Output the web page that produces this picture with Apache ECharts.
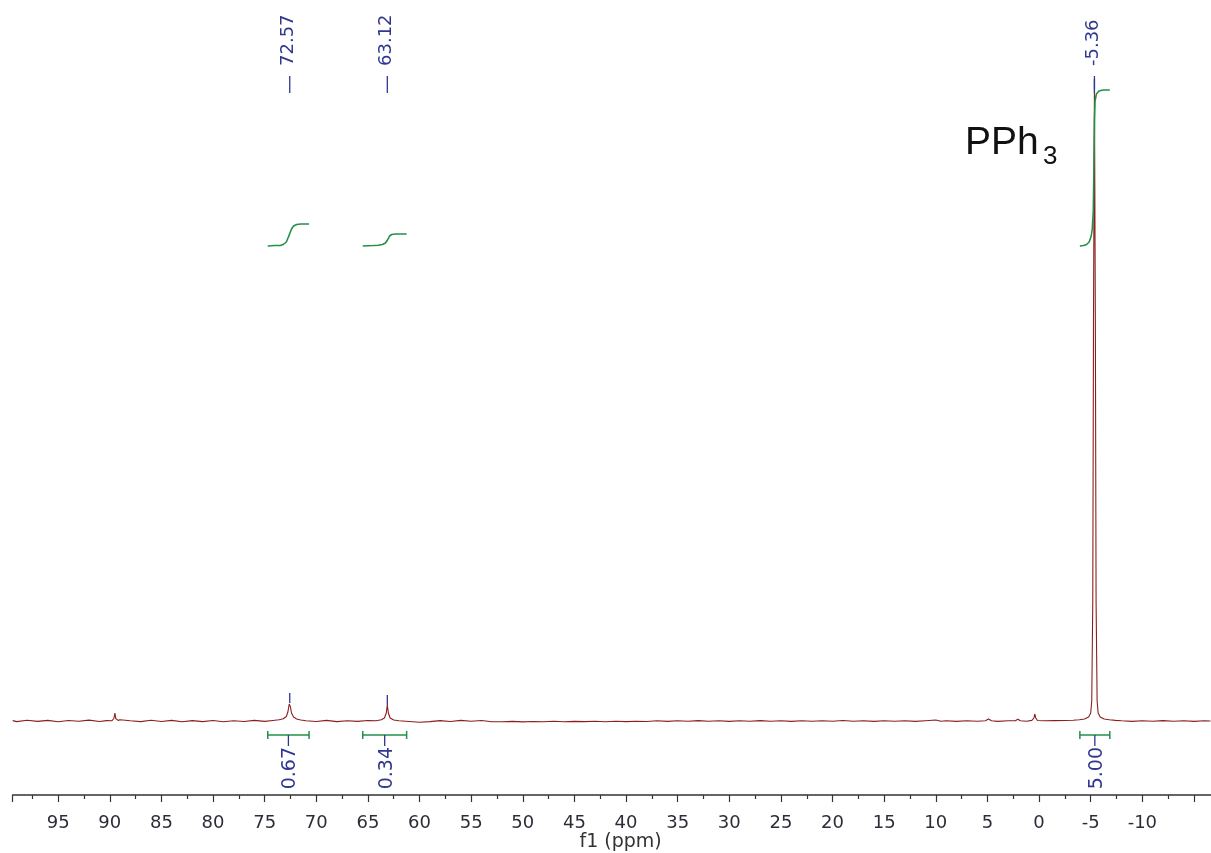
<!DOCTYPE html>
<html>
<head>
<meta charset="utf-8">
<title>31P NMR</title>
<script src="https://cdn.jsdelivr.net/npm/echarts@6/dist/echarts.min.js"></script>
<style>
html, body { margin: 0; padding: 0; background: #fff; }
#main { width: 1211px; height: 853px; }
</style>
</head>
<body>
<div id="main"></div>
<script>
// spectrum trace, [ppm, intensity]
var spectrum = [
    [99.4, 0.4], [99, -0.6], [98, 0.8], [97, -0.4], [96, 0.6], [95, -0.8], [94, 0.5], [93, -0.3],
    [92, 0.9], [91, -0.5], [90.3, 0.4], [89.8, 0.2], [89.6, 2.5], [89.5, 8], [89.42, 2.5], [89.2, 0.6],
    [89, 1.2], [88.5, 0.8], [88, 0.2], [87, -0.6], [86, 0.7], [85, -0.5], [84, 0.6], [83, -0.7],
    [82, 0.4], [81, -0.6], [80, 0.5], [79, -0.8], [78, 0.3], [77, -0.5], [76, 0.6], [75, -0.4],
    [74.2, 0.5], [73.6, 1.2], [73.2, 2.2], [72.9, 4.5], [72.75, 9], [72.62, 17], [72.57, 18], [72.5, 14],
    [72.4, 8], [72.2, 4], [71.9, 2], [71.5, 1], [71, 0.2], [70, -0.5], [69, 0.6], [68, -0.6],
    [67, 0.3], [66, -0.4], [65, 0.5], [64.2, 0.3], [63.7, 1.2], [63.4, 3], [63.22, 8], [63.12, 16],
    [63.02, 8], [62.85, 3], [62.5, 1], [62, 0.2], [61, -0.5], [60, -1.2], [59, -0.6], [58, 0.4],
    [57, -0.5], [56, 0.6], [55, -0.3], [54, 0.5], [53, -0.7], [52, -0.8], [51, -0.4], [50, -0.9],
    [49, -0.5], [48, -0.8], [47, -0.3], [46, -0.7], [45, -0.4], [44, -0.6], [43, -0.2], [42, -0.7],
    [41, -0.3], [40, -0.6], [39, -0.2], [38, -0.5], [37, 0.2], [36, -0.4], [35, 0.3], [34, -0.3],
    [33, 0.4], [32, -0.2], [31, 0.3], [30, -0.4], [29, 0.2], [28, -0.3], [27, 0.4], [26, -0.2],
    [25, 0.3], [24, -0.4], [23, 0.2], [22, -0.3], [21, 0.3], [20, -0.2], [19, 0.5], [18, -0.3],
    [17, 0.3], [16, -0.4], [15, 0.2], [14, -0.3], [13, 0.2], [12, -0.4], [11, 0.3], [10, 1],
    [9.5, -0.2], [9, 0.3], [8, -0.4], [7, 0.2], [6, -0.3], [5.2, 0.2], [4.9, 2], [4.6, 0.3],
    [4, -0.4], [3, 0.2], [2.3, 0.3], [2.06, 1.8], [1.8, 0.2], [1.2, -0.3], [0.7, 0.6], [0.5, 3],
    [0.42, 7], [0.32, 3], [0.15, 0.5], [-0.5, 0.3], [-1.5, 0.4], [-2.5, 0.5], [-3.3, 0.7], [-3.9, 1.2],
    [-4.4, 2], [-4.8, 4], [-5.0, 8], [-5.1, 20], [-5.2, 120], [-5.27, 400], [-5.36, 632], [-5.45, 400],
    [-5.52, 120], [-5.62, 20], [-5.72, 8], [-5.92, 4], [-6.3, 2], [-6.8, 1.2], [-7.4, 0.6], [-8, 0.2],
    [-9, -0.4], [-10, 0.3], [-11, -0.3], [-12, 0.4], [-13, -0.3], [-14, 0.3], [-15, -0.4], [-16, 0.3],
    [-16.6, 0]
];

// picked peaks
var peakShifts = [72.57, 63.12, -5.36];
var peakHeights = [18, 16, 632];

// integrals
var integralFrom = [74.7, 65.5, -3.95];
var integralTo = [70.7, 61.25, -6.85];
var integralValues = ['0.67', '0.34', '5.00'];
var integralCurveA = [
    [74.7, 475], [74, 475.5], [73.5, 475.5], [73.2, 476.5], [72.9, 479], [72.7, 484],
    [72.55, 488], [72.4, 492], [72.2, 495], [71.9, 496.5], [71.5, 497], [70.7, 497]
];
var integralCurveB = [
    [65.5, 475], [64.5, 475.5], [64, 475.8], [63.6, 476.5], [63.3, 478], [63.1, 481],
    [62.9, 485], [62.7, 486.5], [62.3, 487], [61.25, 487]
];
var integralCurveC = [
    [-3.95, 475], [-4.3, 475.5], [-4.6, 476.5], [-4.85, 479], [-5.05, 485], [-5.15, 492],
    [-5.25, 510], [-5.32, 560], [-5.36, 600], [-5.42, 620], [-5.55, 627], [-5.8, 630],
    [-6.2, 631], [-6.85, 631]
];

var tickLabels = [95, 90, 85, 80, 75, 70, 65, 60, 55, 50, 45, 40, 35, 30, 25, 20, 15, 10, 5, 0, -5, -10];

var RED = '#8b1e1e';
var GREEN = '#23904a';
var NAVY = '#30378f';
var FONT = '"DejaVu Sans", Verdana, sans-serif';
var SANS = '"Liberation Sans", Arial, sans-serif';

var myChart = echarts.init(document.getElementById('main'));

// peak labels on top, rotated
function renderPeakLabel(params, api) {
    var ppm = api.value(0);
    var top = api.coord([ppm, api.value(1)]);
    var x = top[0];
    var y0 = params.coordSys.y;
    return {
        type: 'group',
        children: [
            {
                type: 'text', x: x - 1, y: y0 + 66, rotation: Math.PI / 2,
                style: { text: ppm.toFixed(2), fill: NAVY, fontSize: 18, fontFamily: FONT, align: 'left', verticalAlign: 'middle' }
            },
            { type: 'line', shape: { x1: x, y1: y0 + 76, x2: x, y2: y0 + 93 }, style: { stroke: NAVY, lineWidth: 1.3 } },
            { type: 'line', shape: { x1: x, y1: top[1] - 10, x2: x, y2: top[1] }, style: { stroke: NAVY, lineWidth: 1.3 } }
        ]
    };
}

// integral brackets under the baseline
function renderIntegral(params, api) {
    var a = api.coord([api.value(0), -14]);
    var b = api.coord([api.value(1), -14]);
    var y = a[1];
    var mid = (a[0] + b[0]) / 2;
    return {
        type: 'group',
        children: [
            { type: 'line', shape: { x1: a[0], y1: y, x2: b[0], y2: y }, style: { stroke: GREEN, lineWidth: 1.5 } },
            { type: 'line', shape: { x1: a[0], y1: y - 4, x2: a[0], y2: y + 4 }, style: { stroke: GREEN, lineWidth: 1.5 } },
            { type: 'line', shape: { x1: b[0], y1: y - 4, x2: b[0], y2: y + 4 }, style: { stroke: GREEN, lineWidth: 1.5 } },
            { type: 'line', shape: { x1: mid, y1: y, x2: mid, y2: y + 11 }, style: { stroke: NAVY, lineWidth: 1.3 } },
            {
                type: 'text', x: mid + 2, y: y + 12, rotation: Math.PI / 2,
                style: { text: integralValues[params.dataIndex], fill: NAVY, fontSize: 19, fontFamily: FONT, align: 'right', verticalAlign: 'middle' }
            }
        ]
    };
}

var option = {
    animation: false,
    backgroundColor: '#fff',
    textStyle: { fontFamily: FONT },
    grid: {
        left: 12.7,
        top: 0,
        width: 1232.9,
        height: 795,
        outerBoundsMode: 'none',
        containLabel: false
    },
    xAxis: {
        type: 'value',
        inverse: true,
        min: -20,
        max: 99.4,
        interval: 5,
        name: 'f1 (ppm)',
        nameLocation: 'middle',
        nameGap: 38,
        nameMoveOverlap: false,
        nameTextStyle: { color: '#333', fontSize: 19, fontFamily: FONT, padding: [0, 17, 0, 0] },
        axisLine: { show: true, onZero: false, lineStyle: { color: '#333', width: 1.5 } },
        axisTick: { show: true, length: 7, lineStyle: { color: '#333', width: 1.2 } },
        minorTick: { show: true, splitNumber: 2, length: 4, lineStyle: { color: '#333', width: 1.2 } },
        splitLine: { show: false },
        axisLabel: {
            margin: 19,
            color: '#2d2d38',
            fontSize: 18,
            fontFamily: FONT,
            formatter: function (v) {
                return tickLabels.indexOf(v) >= 0 ? String(v) : '';
            }
        }
    },
    yAxis: {
        type: 'value',
        min: -74,
        max: 721,
        show: false
    },
    graphic: [
        { type: 'text', left: 965, top: 124, style: { text: 'PPh', fill: '#111', fontSize: 39, fontFamily: SANS } },
        { type: 'text', left: 1043, top: 144, style: { text: '3', fill: '#111', fontSize: 26, fontFamily: SANS } }
    ],
    series: [
        {
            type: 'line',
            data: spectrum,
            showSymbol: false,
            lineStyle: { color: RED, width: 1.1 },
            z: 3
        },
        { type: 'line', data: integralCurveA, showSymbol: false, lineStyle: { color: GREEN, width: 1.6 } },
        { type: 'line', data: integralCurveB, showSymbol: false, lineStyle: { color: GREEN, width: 1.6 } },
        { type: 'line', data: integralCurveC, showSymbol: false, lineStyle: { color: GREEN, width: 1.6 } },
        {
            type: 'custom',
            renderItem: renderPeakLabel,
            data: peakShifts.map(function (s, i) { return [s, peakHeights[i]]; }),
            z: 4
        },
        {
            type: 'custom',
            renderItem: renderIntegral,
            data: integralFrom.map(function (f, i) { return [f, integralTo[i]]; }),
            z: 4
        }
    ]
};

myChart.setOption(option);

window.addEventListener('resize', function () {
    myChart.resize();
});
</script>
</body>
</html>
